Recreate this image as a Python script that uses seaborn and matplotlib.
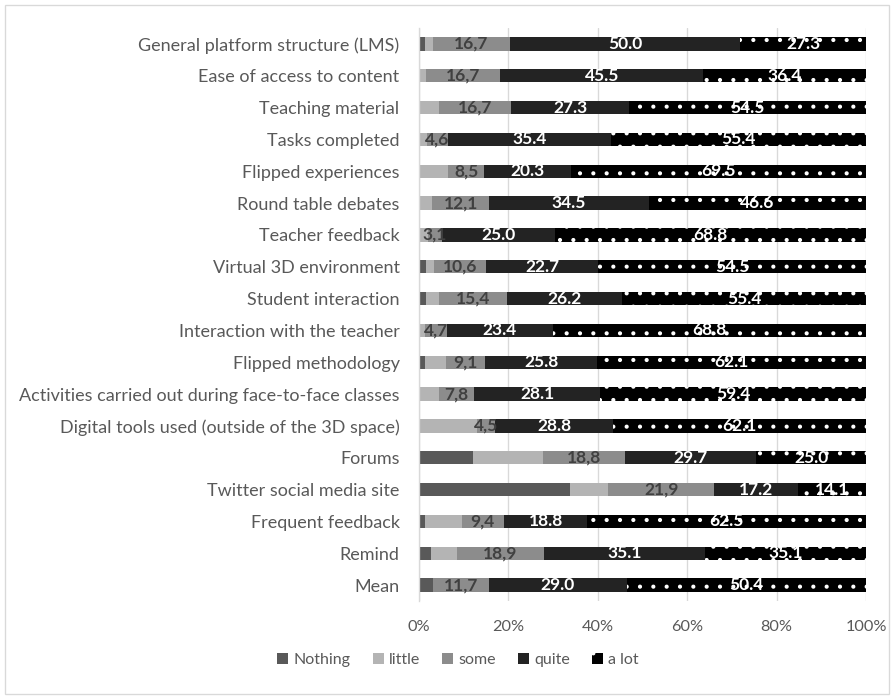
import numpy as np
import pandas as pd
import matplotlib
matplotlib.use("Agg")
import matplotlib.pyplot as plt
from matplotlib.patches import Patch, Rectangle
import seaborn as sns

items = [
    "General platform structure (LMS)",
    "Ease of access to content",
    "Teaching material",
    "Tasks completed",
    "Flipped experiences",
    "Round table debates",
    "Teacher feedback",
    "Virtual 3D environment",
    "Student interaction",
    "Interaction with the teacher",
    "Flipped methodology",
    "Activities carried out during face-to-face classes",
    "Digital tools used (outside of the 3D space)",
    "Forums",
    "Twitter social media site",
    "Frequent feedback",
    "Remind",
    "Mean",
]

nothing = [1.3, 0.0, 0.0, 0.0, 0.0, 0.0, 0.0, 1.4, 1.5, 0.0, 1.4, 0.0, 0.0, 12.2, 31.2, 1.3, 2.6, 3.0]
little = [1.7, 1.5, 4.5, 1.7, 6.9, 2.9, 1.9, 1.7, 3.0, 1.4, 4.8, 4.5, 14.2, 15.9, 7.9, 8.3, 5.7, 0.0]
some = [16.7, 16.7, 16.7, 4.6, 8.5, 12.1, 3.1, 10.6, 15.4, 4.7, 9.1, 7.8, 4.5, 18.8, 21.9, 9.4, 18.9, 11.7]
quite = [50.0, 45.5, 27.3, 35.4, 20.3, 34.5, 25.0, 22.7, 26.2, 23.4, 25.8, 28.1, 28.8, 29.7, 17.2, 18.8, 35.1, 29.0]
a_lot = [27.3, 36.4, 54.5, 55.4, 69.5, 46.6, 68.8, 54.5, 55.4, 68.8, 62.1, 59.4, 62.1, 25.0, 14.1, 62.5, 35.1, 50.4]

levels = ["Nothing", "little", "some", "quite", "a lot"]
colors = ["#595959", "#b4b4b4", "#8c8c8c", "#232323", "#000000"]

df = pd.DataFrame({"item": items, "Nothing": nothing, "little": little,
                   "some": some, "quite": quite, "a lot": a_lot})

# 100% stacked: each row is scaled to its own total
vals = df[levels].to_numpy(dtype=float)
share = vals / vals.sum(axis=1, keepdims=True) * 100
ends = np.cumsum(share, axis=1)
starts = ends - share

W, H = 894, 699
DPI = 80  # lower dpi gives a sparser dot hatch; sizes below are in points
fig = plt.figure(figsize=(W / DPI, H / DPI), dpi=DPI)
fig.patch.set_facecolor("white")
fig.add_artist(Rectangle((5 / W, 5 / H), 884 / W, 689 / H, transform=fig.transFigure,
                         fill=False, edgecolor="#d9d9d9", linewidth=1.2))

sns.set_style("white")
plt.rcParams["font.family"] = ["Lato", "DejaVu Sans"]
plt.rcParams["hatch.linewidth"] = 1.3
ax = fig.add_axes([419 / W, 1 - 601 / H, 447 / W, 573 / H])

ax.set_axisbelow(True)
ax.grid(axis="x", color="#d9d9d9", linewidth=1.2)

# draw cumulative layers from the outermost inward so each one covers the next
for k in range(len(levels) - 1, -1, -1):
    layer = pd.DataFrame({"item": items, "end": ends[:, k]})
    if levels[k] == "a lot":
        kw = dict(hatch=".", edgecolor="white", linewidth=0)
    else:
        kw = dict(edgecolor="none", linewidth=0)
    sns.barplot(data=layer, x="end", y="item", orient="h", color=colors[k],
                saturation=1, width=0.42, ax=ax, **kw)

# value labels on some / quite / a lot
for i in range(len(items)):
    for k, lev in enumerate(levels):
        if lev not in ("some", "quite", "a lot"):
            continue
        v = vals[i, k]
        if v <= 0:
            continue
        cx = (starts[i, k] + ends[i, k]) / 2
        if lev == "some":
            txt = f"{v:.1f}".replace(".", ",")
            col = "#404040"
        else:
            txt = f"{v:.1f}"
            col = "white"
        ax.text(cx, i, txt, ha="center", va="center", fontsize=15.6,
                fontweight="bold", color=col, family=["Lato", "DejaVu Sans"])

ax.set_xlim(0, 100)
ax.set_ylim(17.5, -0.5)
ax.set_xticks([0, 20, 40, 60, 80, 100])
ax.set_xticklabels(["0%", "20%", "40%", "60%", "80%", "100%"])
ax.set_xlabel("")
ax.set_ylabel("")
ax.tick_params(axis="x", length=0, pad=17, labelsize=14.6, labelcolor="#595959")
ax.tick_params(axis="y", length=0, pad=17.5, labelsize=16.2, labelcolor="#595959")
for s in ["top", "right", "bottom"]:
    ax.spines[s].set_visible(False)
ax.spines["left"].set_color("#d9d9d9")
ax.spines["left"].set_linewidth(1.2)

handles = [Patch(facecolor=c, edgecolor="none") for c in colors[:4]]
handles.append(Patch(facecolor=colors[4], edgecolor="white", hatch=".", linewidth=0))
fig.legend(handles, levels, loc="center", bbox_to_anchor=(458 / W, 1 - 660 / H),
           ncol=5, frameon=False, fontsize=14.4, labelcolor="#595959",
           handlelength=0.7, handleheight=0.7, handletextpad=0.3, columnspacing=1.4)

fig.savefig("out.png", dpi=DPI, facecolor="white")
